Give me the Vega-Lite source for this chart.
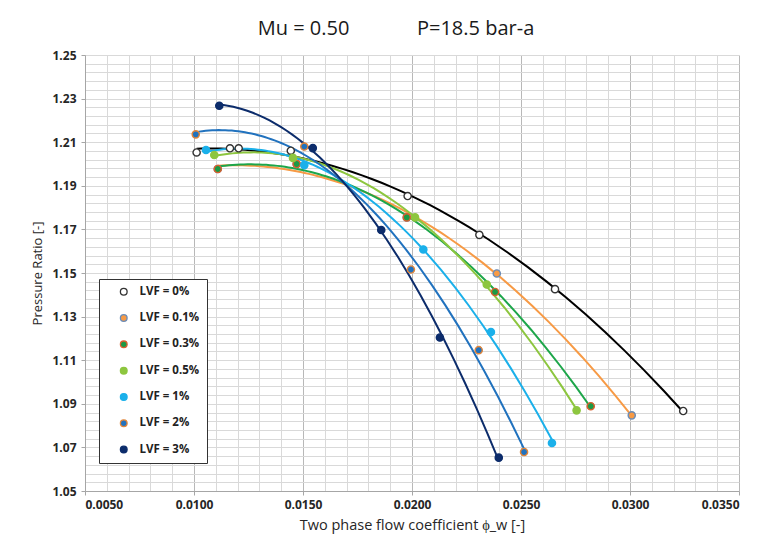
{
  "$schema": "https://vega.github.io/schema/vega-lite/v6.json",
  "width": 654,
  "height": 436,
  "autosize": {"type": "none"},
  "padding": {"left": 85, "top": 55, "right": 24, "bottom": 49},
  "background": "#ffffff",
  "title": {
    "text": "Mu = 0.50\u00a0\u00a0\u00a0\u00a0\u00a0\u00a0\u00a0\u00a0\u00a0\u00a0\u00a0\u00a0\u00a0P=18.5 bar-a",
    "anchor": "middle",
    "dx": -16,
    "offset": 10,
    "font": "Open Sans",
    "fontSize": 20,
    "fontWeight": "normal",
    "color": "#1a1a1a"
  },
  "data": {
    "values": [
      {"series": "LVF = 0%", "phi": 0.01012, "pr": 1.2053},
      {"series": "LVF = 0%", "phi": 0.01165, "pr": 1.2072},
      {"series": "LVF = 0%", "phi": 0.01205, "pr": 1.2072},
      {"series": "LVF = 0%", "phi": 0.01444, "pr": 1.2061},
      {"series": "LVF = 0%", "phi": 0.01980, "pr": 1.1853},
      {"series": "LVF = 0%", "phi": 0.02309, "pr": 1.1675},
      {"series": "LVF = 0%", "phi": 0.02656, "pr": 1.1426},
      {"series": "LVF = 0%", "phi": 0.03244, "pr": 1.0867},
      {"series": "LVF = 0.1%", "phi": 0.01109, "pr": 1.1977},
      {"series": "LVF = 0.1%", "phi": 0.01471, "pr": 1.2000},
      {"series": "LVF = 0.1%", "phi": 0.01976, "pr": 1.1755},
      {"series": "LVF = 0.1%", "phi": 0.02389, "pr": 1.1498},
      {"series": "LVF = 0.1%", "phi": 0.03008, "pr": 1.0847},
      {"series": "LVF = 0.3%", "phi": 0.01109, "pr": 1.1977},
      {"series": "LVF = 0.3%", "phi": 0.01471, "pr": 1.2000},
      {"series": "LVF = 0.3%", "phi": 0.01976, "pr": 1.1755},
      {"series": "LVF = 0.3%", "phi": 0.02381, "pr": 1.1413},
      {"series": "LVF = 0.3%", "phi": 0.02820, "pr": 1.0889},
      {"series": "LVF = 0.5%", "phi": 0.01093, "pr": 1.2041},
      {"series": "LVF = 0.5%", "phi": 0.01454, "pr": 1.2028},
      {"series": "LVF = 0.5%", "phi": 0.02014, "pr": 1.1755},
      {"series": "LVF = 0.5%", "phi": 0.02343, "pr": 1.1447},
      {"series": "LVF = 0.5%", "phi": 0.02755, "pr": 1.0870},
      {"series": "LVF = 1%", "phi": 0.01055, "pr": 1.2064},
      {"series": "LVF = 1%", "phi": 0.01506, "pr": 1.1995},
      {"series": "LVF = 1%", "phi": 0.02052, "pr": 1.1608},
      {"series": "LVF = 1%", "phi": 0.02362, "pr": 1.1229},
      {"series": "LVF = 1%", "phi": 0.02642, "pr": 1.0720},
      {"series": "LVF = 2%", "phi": 0.01008, "pr": 1.2136},
      {"series": "LVF = 2%", "phi": 0.01506, "pr": 1.2080},
      {"series": "LVF = 2%", "phi": 0.01995, "pr": 1.1516},
      {"series": "LVF = 2%", "phi": 0.02306, "pr": 1.1146},
      {"series": "LVF = 2%", "phi": 0.02514, "pr": 1.0679},
      {"series": "LVF = 3%", "phi": 0.01116, "pr": 1.2267},
      {"series": "LVF = 3%", "phi": 0.01545, "pr": 1.2073},
      {"series": "LVF = 3%", "phi": 0.01859, "pr": 1.1697},
      {"series": "LVF = 3%", "phi": 0.02128, "pr": 1.1204},
      {"series": "LVF = 3%", "phi": 0.02398, "pr": 1.0653}
    ]
  },
  "encoding": {
    "x": {
      "field": "phi", "type": "quantitative",
      "scale": {"domain": [0.005, 0.035], "nice": false, "zero": false},
      "axis": {
        "values": [0.005,0.006,0.007,0.008,0.009,0.010,0.011,0.012,0.013,0.014,0.015,0.016,0.017,0.018,0.019,0.020,0.021,0.022,0.023,0.024,0.025,0.026,0.027,0.028,0.029,0.030,0.031,0.032,0.033,0.034,0.035],
        "labelExpr": "abs(datum.value*200 - round(datum.value*200)) < 0.01 ? format(datum.value, '.4f') : ''",
        "grid": true,
        "gridColor": {"condition": {"test": "abs(datum.value*200 - round(datum.value*200)) < 0.01", "value": "#b8b8b8"}, "value": "#d9d9d9"},
        "gridWidth": 1,
        "domain": true, "domainColor": "#a6a6a6",
        "ticks": true, "tickColor": "#a6a6a6", "tickSize": 4,
        "tickOpacity": {"condition": {"test": "abs(datum.value*200 - round(datum.value*200)) < 0.01", "value": 1}, "value": 0},
        "labelFont": "Open Sans", "labelFontSize": 12, "labelFontWeight": "bold", "labelColor": "#262626", "labelPadding": 4,
        "labelOverlap": false,
        "title": "Two phase flow coefficient ϕ_w [-]",
        "titleFont": "Open Sans", "titleFontSize": 14.5, "titleFontWeight": "normal", "titleColor": "#262626", "titlePadding": 8
      }
    },
    "y": {
      "field": "pr", "type": "quantitative",
      "scale": {"domain": [1.05, 1.25], "nice": false, "zero": false},
      "axis": {
        "values": [1.05,1.054,1.058,1.062,1.066,1.07,1.074,1.078,1.082,1.086,1.09,1.094,1.098,1.102,1.106,1.11,1.114,1.118,1.122,1.126,1.13,1.134,1.138,1.142,1.146,1.15,1.154,1.158,1.162,1.166,1.17,1.174,1.178,1.182,1.186,1.19,1.194,1.198,1.202,1.206,1.21,1.214,1.218,1.222,1.226,1.23,1.234,1.238,1.242,1.246,1.25],
        "labelExpr": "abs((datum.value-1.05)*50 - round((datum.value-1.05)*50)) < 0.01 ? format(datum.value, '.2f') : ''",
        "grid": true, "gridColor": "#d9d9d9", "gridWidth": 1,
        "domain": true, "domainColor": "#a6a6a6",
        "ticks": true, "tickColor": "#a6a6a6", "tickSize": 4,
        "tickOpacity": {"condition": {"test": "abs((datum.value-1.05)*50 - round((datum.value-1.05)*50)) < 0.01", "value": 1}, "value": 0},
        "labelOverlap": false,
        "labelFont": "Open Sans", "labelFontSize": 12, "labelFontWeight": "bold", "labelColor": "#262626", "labelPadding": 5,
        "title": "Pressure Ratio [-]",
        "titleFont": "Open Sans", "titleFontSize": 13, "titleFontWeight": "normal", "titleColor": "#262626", "titlePadding": 7
      }
    }
  },
  "layer": [
    {
      "transform": [
        {"regression": "pr", "on": "phi", "groupby": ["series"], "method": "poly", "order": 2}
      ],
      "mark": {"type": "line", "strokeWidth": 2, "clip": true},
      "encoding": {
        "color": {
          "field": "series", "type": "nominal", "legend": null,
          "scale": {
            "range": ["#000000", "#F79A45", "#1DA64A", "#8DC63F", "#1BB0EA", "#2172BE", "#0C2C6B"]
          }
        }
      }
    },
    {
      "mark": {"type": "point", "filled": true, "shape": "circle", "size": 52, "strokeWidth": 1.4, "opacity": 1},
      "encoding": {
        "fill": {
          "field": "series", "type": "nominal", "title": null,
          "scale": {
            "domain": ["LVF = 0%", "LVF = 0.1%", "LVF = 0.3%", "LVF = 0.5%", "LVF = 1%", "LVF = 2%", "LVF = 3%"],
            "range": ["#ffffff", "#F79A45", "#1B9A45", "#8DC63F", "#1BB0EA", "#2172BE", "#0C2C6B"]
          },
          "legend": {
            "orient": "none", "legendX": 14, "legendY": 224,
            "direction": "vertical",
            "strokeColor": "#333333", "fillColor": "#ffffff", "padding": 7,
            "symbolType": "circle", "symbolSize": 45, "symbolStrokeWidth": 1.3, "symbolOffset": 12,
            "labelFont": "Open Sans", "labelFontSize": 11.5, "labelFontWeight": "bold", "labelColor": "#222222",
            "labelOffset": 10, "rowPadding": 13.3
          }
        },
        "stroke": {
          "field": "series", "type": "nominal", "title": null,
          "scale": {
            "domain": ["LVF = 0%", "LVF = 0.1%", "LVF = 0.3%", "LVF = 0.5%", "LVF = 1%", "LVF = 2%", "LVF = 3%"],
            "range": ["#333333", "#6A8CB8", "#D9602E", "#8DC63F", "#1BB0EA", "#E0853A", "#0C2C6B"]
          },
          "legend": {
            "orient": "none", "legendX": 14, "legendY": 224,
            "direction": "vertical",
            "strokeColor": "#333333", "fillColor": "#ffffff", "padding": 7,
            "symbolType": "circle", "symbolSize": 45, "symbolStrokeWidth": 1.3, "symbolOffset": 12,
            "labelFont": "Open Sans", "labelFontSize": 11.5, "labelFontWeight": "bold", "labelColor": "#222222",
            "labelOffset": 10, "rowPadding": 13.3
          }
        }
      }
    }
  ],
  "config": {
    "view": {"stroke": null}
  }
}
